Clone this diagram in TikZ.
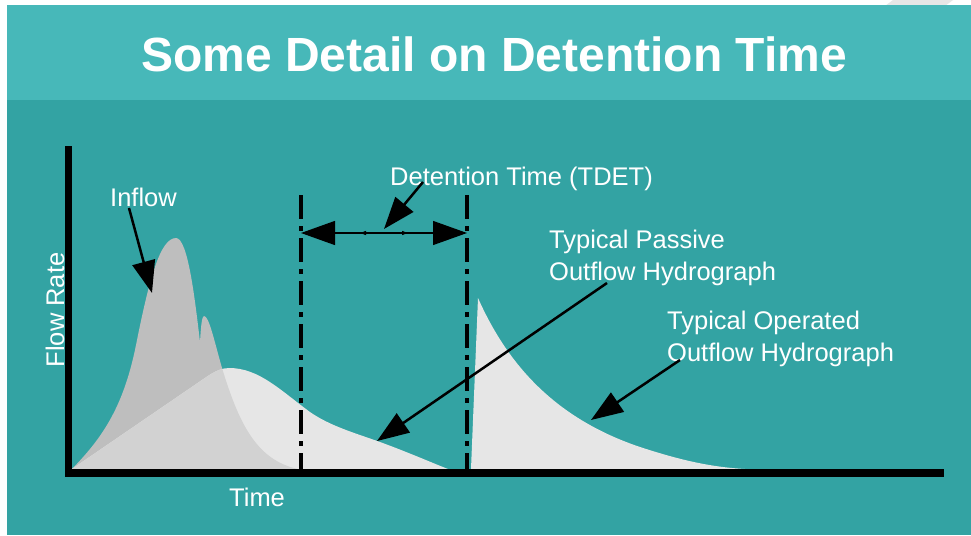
\documentclass[tikz,border=0pt]{standalone}
\usepackage{fontspec}
\setmainfont{Liberation Sans}
\usetikzlibrary{arrows.meta}
\definecolor{headteal}{HTML}{47B8B9}
\definecolor{bodyteal}{HTML}{33A3A3}
\definecolor{inflowgray}{HTML}{BEBEBE}
\definecolor{overlapgray}{HTML}{D2D2D2}
\definecolor{outgray}{HTML}{E6E6E6}
\begin{document}
\begin{tikzpicture}[x=1pt,y=-1pt,
  lbl/.style={text=white,font=\fontsize{25.5}{31}\selectfont,inner sep=0pt},
  titletext/.style={text=white,font=\fontsize{48}{56}\selectfont\bfseries,inner sep=0pt},
  axisline/.style={line width=7.5pt},
  marker/.style={line width=4.5pt,dash pattern=on 24pt off 7pt on 5pt off 7pt},
  pointer/.style={line width=2.5pt,-{Triangle[length=32pt,width=23pt]}},
  bigtip/.style={line width=1.3pt,{Triangle[length=34pt,width=24pt]}-{Triangle[length=34pt,width=24pt]}},
  smalltip/.style={line width=1pt,-{Triangle[length=6pt,width=4pt]}}]
\useasboundingbox (0,0) rectangle (971,535);
\fill[white] (0,0) rectangle (971,535);
\fill[outgray] (885,6) -- (893,0) -- (953,0) -- (945,6) -- cycle;
% header and body panels
\fill[headteal] (7,5) rectangle (971,100);
\fill[bodyteal] (7,100) rectangle (971,535);
\node[titletext,anchor=base] (title) at (494,71) {Some Detail on Detention Time};

% hydrographs
\def\inflowpath{(72,469) .. controls (100,440) and (123,410) .. (136,345)
  .. controls (149,280) and (160,238) .. (176,238)
  .. controls (188,238) and (195,300) .. (200,342)
  .. controls (201,325) and (202,316) .. (204,316)
  .. controls (209,316) and (214,340) .. (222,368)
  .. controls (238,420) and (255,460) .. (298,469) -- cycle}
\def\passivepath{(72,469) -- (205,378) .. controls (215,371) and (222,368) .. (229,368)
  .. controls (259,368) and (280,390) .. (310,412)
  .. controls (330,426) and (355,433) .. (380,442)
  .. controls (410,453) and (430,462) .. (448,469) -- cycle}
\fill[inflowgray] \inflowpath;
\fill[outgray] \passivepath;
\begin{scope}
  \clip \inflowpath;
  \fill[overlapgray] \passivepath;
\end{scope}
\fill[outgray] (471,469) -- (478,298) .. controls (510,370) and (560,420) .. (640,447)
  .. controls (680,460) and (710,467) .. (745,469) -- cycle;

% detention time markers
\coordinate (m1top) at (301,195);
\coordinate (m1bot) at (301,469);
\coordinate (m2top) at (467,195);
\coordinate (m2bot) at (467,469);
\draw[marker] (m1top) -- (m1bot);
\draw[marker] (m2top) -- (m2bot);

% axes
\coordinate (ytop) at (68.5,146);
\coordinate (ybot) at (68.5,472);
\coordinate (xleft) at (65,473);
\coordinate (xend) at (944,473);
\draw[axisline] (ytop) -- (ybot);
\draw[line width=8pt] (xleft) -- (xend);

% detention span arrow
\coordinate (dl) at (301,233);
\coordinate (dr) at (467,233);
\coordinate (dmid) at (384,233);
\coordinate (dsl) at (360,233);
\coordinate (dsr) at (408,233);
\draw[bigtip] (dl) -- (dr);
\draw[smalltip] (dmid) -- (dsl);
\draw[smalltip] (dmid) -- (dsr);

% labels
\node[lbl,anchor=base west] (inflow) at (110,206) {Inflow};
\node[lbl,anchor=base west] (time) at (229,506) {Time};
\node[lbl,anchor=base,rotate=90] (flowrate) at (64,310) {Flow Rate};
\node[lbl,anchor=base west] (tdet) at (390,185) {Detention Time (TDET)};
\node[lbl,anchor=base west] (pas1) at (549,248) {Typical Passive};
\node[lbl,anchor=base west] (pas2) at (549,280) {Outflow Hydrograph};
\node[lbl,anchor=base west] (op1) at (667,329) {Typical Operated};
\node[lbl,anchor=base west] (op2) at (667,361) {Outflow Hydrograph};

% pointers
\coordinate (inA) at (129,208);
\coordinate (inB) at (152,293);
\coordinate (tdA) at (423,182);
\coordinate (tdB) at (384,229);
\coordinate (paA) at (607,283);
\coordinate (paB) at (377,441);
\coordinate (opA) at (680,360);
\coordinate (opB) at (591,420);
\draw[pointer] (inA) -- (inB);
\draw[pointer] (tdA) -- (tdB);
\draw[pointer] (paA) -- (paB);
\draw[pointer] (opA) -- (opB);
\end{tikzpicture}
\end{document}
